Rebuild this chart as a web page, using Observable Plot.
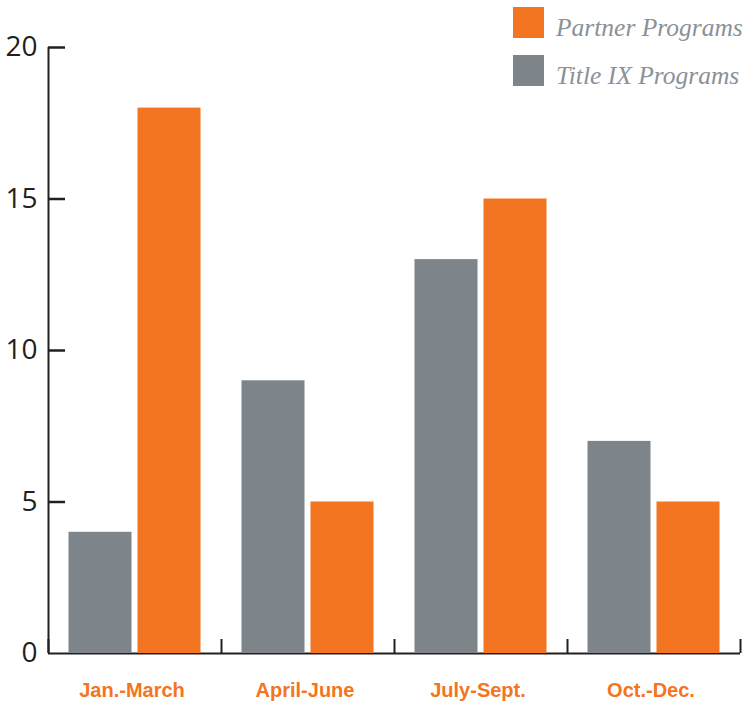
<!DOCTYPE html>
<html>
<head>
<meta charset="utf-8">
<script src="https://cdn.jsdelivr.net/npm/d3@7"></script>
<script src="https://cdn.jsdelivr.net/npm/@observablehq/plot@0.6"></script>
<style>
  html, body { margin: 0; padding: 0; background: #fff; }
  #chart { position: relative; width: 746px; height: 704px; }
  #legend { position: absolute; left: 513px; top: 7px; }
  .item { display: flex; align-items: center; height: 31px; margin-bottom: 17px; }
  .sw { width: 31px; height: 31px; margin-right: 12px; }
  .lab { font-family: "Liberation Serif", serif; font-style: italic; font-size: 25.5px; color: #8a9197; white-space: nowrap; position: relative; top: 5px; }
</style>
</head>
<body>
<div id="chart"><div id="legend"></div></div>
<script>
const quarters = ["Jan.-March", "April-June", "July-Sept.", "Oct.-Dec."];
const titleIX = [4, 9, 13, 7];
const partner = [18, 5, 15, 5];
const yTicks = [0, 5, 10, 15, 20];
const legendSeries = ["Partner Programs", "Title IX Programs"];
const colors = {"Partner Programs": "#f47521", "Title IX Programs": "#7d848a"};

const rows = quarters.map((q, i) => ({q, i, titleIX: titleIX[i], partner: partner[i]}));
const ink = "#231f20";

const plot = Plot.plot({
  width: 746,
  height: 704,
  marginLeft: 48,
  marginRight: 6,
  marginTop: 47,
  marginBottom: 51,
  x: {domain: [0, quarters.length], axis: null},
  y: {domain: [0, 20], axis: null},
  marks: [
    Plot.ruleX([0], {stroke: ink, strokeWidth: 2}),
    Plot.ruleY([0], {stroke: ink, strokeWidth: 2}),
    Plot.ruleY(yTicks.filter(d => d > 0), {y: d => d, stroke: ink, strokeWidth: 2.5, insetRight: 692 - 17}),
    Plot.ruleX(d3.range(quarters.length + 1), {x: d => d, stroke: ink, strokeWidth: 2, insetTop: 606 - 14}),
    Plot.rectY(rows, {x1: "i", x2: d => d.i + 1, y1: 0, y2: "titleIX", fill: colors["Title IX Programs"], insetLeft: 20.5, insetRight: 89.5}),
    Plot.rectY(rows, {x1: "i", x2: d => d.i + 1, y1: 0, y2: "partner", fill: colors["Partner Programs"], insetLeft: 89.5, insetRight: 20.5}),
    Plot.axisY({ticks: yTicks, tickSize: 0, tickPadding: 11, fontSize: 28, fill: ink, tickFormat: d => String(d), fontFamily: "Open Sans"}),
    Plot.text(rows, {x: d => d.i + 0.5, text: "q", frameAnchor: "bottom", dy: 43, dx: -3, fill: "#f47521", fontSize: 20, fontWeight: "bold", fontFamily: "Liberation Sans"})
  ]
});
document.getElementById("chart").prepend(plot);

const legend = document.getElementById("legend");
for (const s of legendSeries) {
  const it = document.createElement("div");
  it.className = "item";
  const sw = document.createElement("div");
  sw.className = "sw";
  sw.style.background = colors[s];
  const lab = document.createElement("span");
  lab.className = "lab";
  lab.textContent = s;
  it.append(sw, lab);
  legend.append(it);
}
</script>
</body>
</html>
